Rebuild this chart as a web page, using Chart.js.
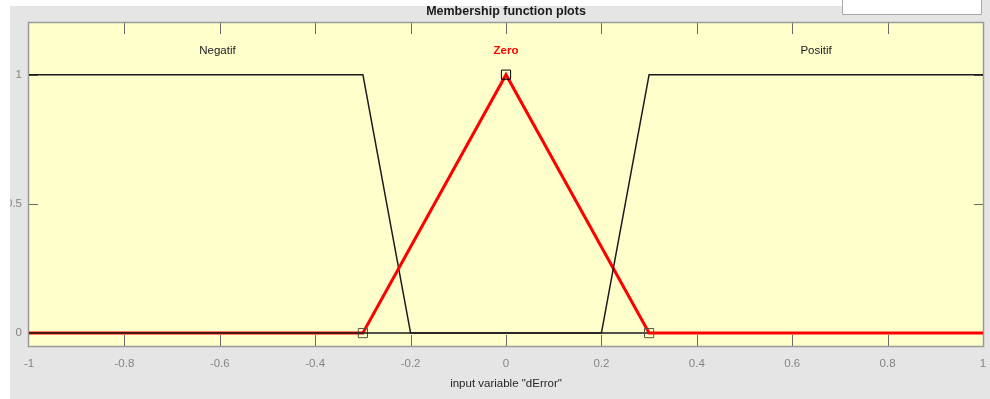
<!DOCTYPE html>
<html>
<head>
<meta charset="utf-8">
<script src="https://cdn.jsdelivr.net/npm/chart.js@4/dist/chart.umd.min.js"></script>
<style>
  html, body { margin: 0; padding: 0; background: #e5e5e5; }
  #wrap { width: 990px; height: 399px; position: relative; }
</style>
</head>
<body>
<div id="wrap"><canvas id="mf" width="990" height="399"></canvas></div>
<script>
// Membership functions of the input variable "dError"
const mfNames = ['Negatif', 'Zero', 'Positif'];
const mfLabelX = [-0.605, 0, 0.65];   // where each MF name sits on the x axis
const mfLabelY = 1.092;

// Negatif: trapezoid, flat at 1 until -0.3, down to 0 at -0.2
const negatifX = [-1, -0.3, -0.2, 1];
const negatifY = [1, 1, 0, 0];
// Zero: triangle [-0.3 0 0.3]
const zeroX = [-1, -0.3, 0, 0.3, 1];
const zeroY = [0, 0, 1, 0, 0];
// Positif: trapezoid, rises from 0 at 0.2 to 1 at 0.3
const positifX = [-1, 0.2, 0.3, 1];
const positifY = [0, 0, 1, 1];

const xTickValues = [-1, -0.8, -0.6, -0.4, -0.2, 0, 0.2, 0.4, 0.6, 0.8, 1];
const xTickLabels = ['-1', '-0.8', '-0.6', '-0.4', '-0.2', '0', '0.2', '0.4', '0.6', '0.8', '1'];
const yTickValues = [0, 0.5, 1];
const yTickLabels = ['0', '0.5', '1'];

const pts = (xs, ys) => xs.map((x, i) => ({ x: x, y: ys[i] }));

const FONT = '"Liberation Sans", Arial, sans-serif';

const framePlugin = {
  id: 'frame',
  beforeDraw(chart) {
    const { ctx, chartArea: a } = chart;
    ctx.save();
    ctx.fillStyle = '#e5e5e5';
    ctx.fillRect(0, 0, chart.width, chart.height);
    ctx.fillStyle = '#ffffcc';
    ctx.fillRect(a.left, a.top, a.right - a.left, a.bottom - a.top);
    ctx.restore();
  },
  beforeDatasetsDraw(chart) {
    const { ctx, chartArea: a, scales } = chart;
    ctx.save();
    // inward tick marks
    ctx.strokeStyle = '#6a6a6a';
    ctx.lineWidth = 1;
    ctx.beginPath();
    xTickValues.forEach(v => {
      if (v === xTickValues[0] || v === xTickValues[xTickValues.length - 1]) return;
      const px = Math.round(scales.x.getPixelForValue(v)) + 0.5;
      ctx.moveTo(px, a.bottom); ctx.lineTo(px, a.bottom - 11);
      ctx.moveTo(px, a.top); ctx.lineTo(px, a.top + 11);
    });
    yTickValues.forEach(v => {
      const py = Math.round(scales.y.getPixelForValue(v)) + 0.5;
      ctx.moveTo(a.left, py); ctx.lineTo(a.left + 9, py);
      ctx.moveTo(a.right, py); ctx.lineTo(a.right - 9, py);
    });
    ctx.stroke();
    // axes box
    ctx.strokeStyle = '#9a9a9a';
    ctx.lineWidth = 1.5;
    ctx.strokeRect(a.left - 0.5, a.top - 0.5, a.right - a.left + 1, a.bottom - a.top + 1);
    ctx.restore();
  },
  afterDraw(chart) {
    const { ctx, scales } = chart;
    ctx.save();
    // MF names
    ctx.textAlign = 'center';
    ctx.textBaseline = 'middle';
    mfNames.forEach((name, i) => {
      const px = scales.x.getPixelForValue(mfLabelX[i]);
      const py = scales.y.getPixelForValue(mfLabelY);
      if (name === 'Zero') {
        ctx.fillStyle = '#ff0000';
        ctx.font = 'bold 11.5px ' + FONT;
      } else {
        ctx.fillStyle = '#222222';
        ctx.font = '11.5px ' + FONT;
      }
      ctx.fillText(name, px, py);
    });
    // window edges
    ctx.fillStyle = '#ffffff';
    ctx.fillRect(0, 0, 842, 6);
    ctx.fillRect(0, 0, 10, chart.height);
    // small box in the upper right corner
    ctx.fillRect(842, 0, 140, 14);
    ctx.strokeStyle = '#a8a8a8';
    ctx.lineWidth = 1;
    ctx.beginPath();
    ctx.moveTo(842.5, 0); ctx.lineTo(842.5, 14.5); ctx.lineTo(981.5, 14.5); ctx.lineTo(981.5, 0);
    ctx.stroke();
    // plot title
    ctx.fillStyle = '#1a1a1a';
    ctx.font = 'bold 12.5px ' + FONT;
    ctx.textBaseline = 'alphabetic';
    ctx.fillText('Membership function plots', scales.x.getPixelForValue(0), 14.5);
    ctx.restore();
  }
};

new Chart(document.getElementById('mf'), {
  type: 'line',
  data: {
    datasets: [
      {
        label: 'Positif',
        data: pts(positifX, positifY),
        borderColor: '#1a1a1a',
        borderWidth: 1.5,
        pointRadius: 0,
        tension: 0,
        order: 0
      },
      {
        label: 'Zero',
        data: pts(zeroX, zeroY),
        borderColor: '#ff0000',
        borderWidth: 3,
        tension: 0,
        pointStyle: 'rect',
        pointRadius: [0, 6.5, 6.5, 6.5, 0],
        pointHoverRadius: 0,
        pointBackgroundColor: 'rgba(0,0,0,0)',
        pointBorderColor: ['#000', '#555544', '#000', '#555544', '#000'],
        pointBorderWidth: 1,
        order: 1
      },
      {
        label: 'Negatif',
        data: pts(negatifX, negatifY),
        borderColor: '#1a1a1a',
        borderWidth: 1.5,
        pointRadius: 0,
        tension: 0,
        order: 2
      }
    ]
  },
  options: {
    responsive: false,
    animation: false,
    events: [],
    layout: { padding: { left: 0, top: 23, right: 7, bottom: 0 } },
    plugins: {
      legend: { display: false },
      tooltip: { enabled: false },
      title: { display: false }
    },
    scales: {
      x: {
        type: 'linear',
        min: -1,
        max: 1,
        grid: { display: false, drawTicks: false },
        border: { display: false },
        afterBuildTicks(scale) { scale.ticks = xTickValues.map(v => ({ value: v })); },
        afterFit(scale) {
          scale.height = 53;
          scale.paddingLeft = 0;
          scale.paddingRight = 0;
        },
        ticks: {
          autoSkip: false,
          maxRotation: 0,
          padding: 11,
          color: '#858585',
          font: { family: FONT, size: 11.5 },
          callback: (v, i) => xTickLabels[i]
        },
        title: {
          display: true,
          text: 'input variable "dError"',
          color: '#262626',
          font: { family: FONT, size: 11.5 },
          padding: { top: 0, bottom: 8 }
        }
      },
      y: {
        type: 'linear',
        min: -0.05,
        max: 1.2,
        grid: { display: false, drawTicks: false },
        border: { display: false },
        afterBuildTicks(scale) { scale.ticks = yTickValues.map(v => ({ value: v })); },
        afterFit(scale) {
          scale.width = 29;
          scale.paddingTop = 0;
          scale.paddingBottom = 0;
        },
        ticks: {
          autoSkip: false,
          padding: 7,
          color: '#858585',
          font: { family: FONT, size: 11.5 },
          callback: (v, i) => yTickLabels[i]
        }
      }
    }
  },
  plugins: [framePlugin]
});
</script>
</body>
</html>
